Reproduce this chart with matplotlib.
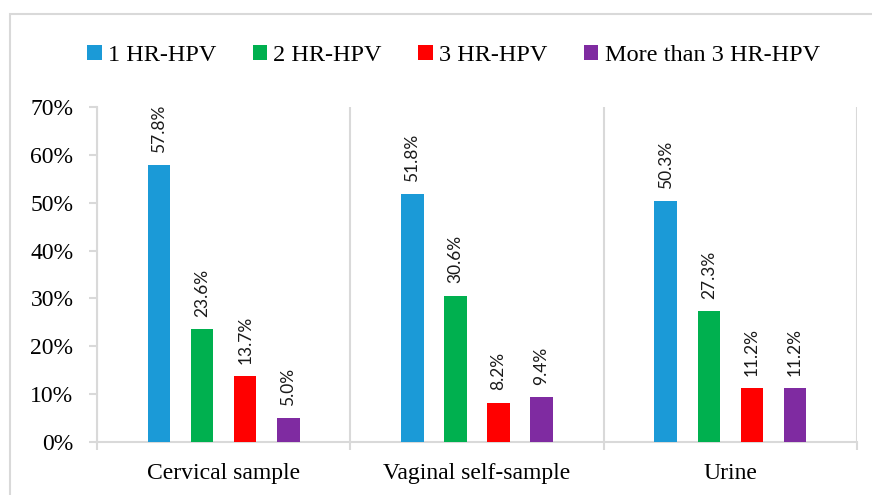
import numpy as np
import matplotlib.pyplot as plt
from matplotlib.patches import Rectangle

categories = ["Cervical sample", "Vaginal self-sample", "Urine"]
series_names = ["1 HR-HPV", "2 HR-HPV", "3 HR-HPV", "More than 3 HR-HPV"]
one_hpv = [57.8, 51.8, 50.3]
two_hpv = [23.6, 30.6, 27.3]
three_hpv = [13.7, 8.2, 11.2]
more_hpv = [5.0, 9.4, 11.2]
y_ticks = [0, 10, 20, 30, 40, 50, 60, 70]

colors = ["#1B9AD7", "#00B04F", "#FF0000", "#7F2BA1"]
serif = "Liberation Serif"
grid_color = "#D9D9D9"


def main():
    fig = plt.figure(figsize=(8.72, 4.95), dpi=100)
    ax = fig.add_axes([97 / 872, 53 / 495, 760 / 872, 335 / 495])

    # light outer frame of the chart area
    fig.patches.append(Rectangle((10 / 872, -0.1), 1.2, (495 - 14) / 495 + 0.1,
                                 transform=fig.transFigure, fill=False,
                                 edgecolor=grid_color, linewidth=1.5))

    x = np.arange(len(categories))
    offsets = [-0.255, -0.085, 0.085, 0.255]
    width = 0.089
    all_series = [one_hpv, two_hpv, three_hpv, more_hpv]

    for vals, name, col, off in zip(all_series, series_names, colors, offsets):
        bars = ax.bar(x + off, vals, width, color=col, label=name, zorder=3)
        for b, v in zip(bars, vals):
            ax.annotate(f"{v:.1f}%", (b.get_x() + b.get_width() / 2, v),
                        xytext=(0, 9), textcoords="offset points",
                        rotation=90, ha="center", va="bottom",
                        fontsize=12.5, family="Lato", color="#1a1a1a")

    ax.set_xlim(-0.5, 2.5)
    ax.set_ylim(0, 70)
    ax.set_yticks(y_ticks)
    ax.set_yticklabels([f"{t}%" for t in y_ticks], family=serif, fontsize=17)
    ax.set_xticks(x)
    ax.set_xticklabels(categories, family=serif, fontsize=17)
    ax.set_xticks([-0.5, 0.5, 1.5, 2.5], minor=True)

    ax.tick_params(axis="x", which="major", length=0, pad=15)
    ax.tick_params(axis="x", which="minor", length=6, color=grid_color, width=1.5)
    ax.tick_params(axis="y", length=6, color=grid_color, width=1.5, pad=11)
    ax.grid(axis="x", which="minor", color=grid_color, linewidth=1.5, zorder=0)

    for s in ["top", "right"]:
        ax.spines[s].set_visible(False)
    for s in ["left", "bottom"]:
        ax.spines[s].set_color(grid_color)
        ax.spines[s].set_linewidth(1.5)

    fig.legend(loc="center", bbox_to_anchor=(0.52, 0.888), ncol=4,
               frameon=False, prop={"family": serif, "size": 17.5},
               handlelength=0.6, handleheight=0.6, handletextpad=0.25,
               columnspacing=1.5)

    fig.savefig("out.png", dpi=100)


if __name__ == "__main__":
    main()
